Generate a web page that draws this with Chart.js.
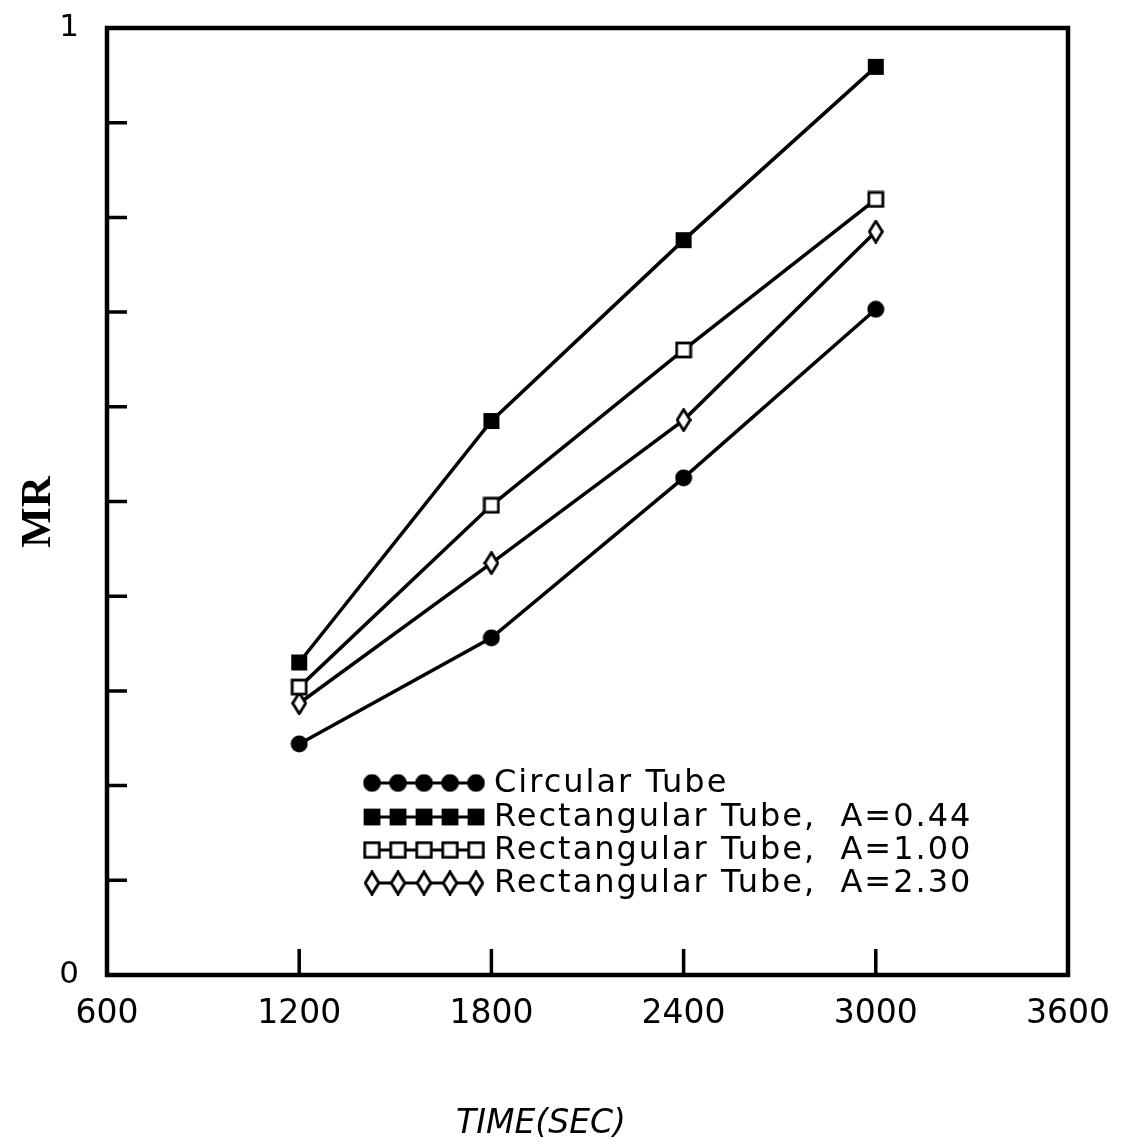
<!DOCTYPE html>
<html>
<head>
<meta charset="utf-8">
<script src="https://cdn.jsdelivr.net/npm/chart.js@4.4.1/dist/chart.umd.min.js"></script>
<style>
  html, body { margin: 0; padding: 0; background: #fff; }
  #wrap { width: 1130px; height: 1145px; position: relative; }
</style>
</head>
<body>
<div id="wrap"><canvas id="chartMR"></canvas></div>
<script>
/* ==========================
   DATA
========================== */
const times = [1200, 1800, 2400, 3000];
const xTicks = [600, 1200, 1800, 2400, 3000, 3600];
const yTickLabels = ["0", "1"];

const seriesLabels = [
  "Circular Tube",
  "Rectangular Tube,  A=0.44",
  "Rectangular Tube,  A=1.00",
  "Rectangular Tube,  A=2.30",
];
const circular = [0.244, 0.356, 0.525, 0.703];
const rect044 = [0.330, 0.585, 0.776, 0.959];
const rect100 = [0.304, 0.496, 0.660, 0.819];
const rect230 = [0.287, 0.435, 0.586, 0.785];

/* ==========================
   MARKERS
========================== */
function makeMarker(kind) {
  const c = document.createElement("canvas");
  const w = kind === "diamond" ? 16 : 18;
  const h = kind === "diamond" ? 24 : 18;
  c.width = w;
  c.height = h;
  const g = c.getContext("2d");
  g.fillStyle = "#000";
  g.strokeStyle = "#000";
  g.lineWidth = 2.8;
  if (kind === "circle") {
    g.beginPath();
    g.arc(9, 9, 8.5, 0, Math.PI * 2);
    g.fill();
  } else if (kind === "square") {
    g.fillRect(1, 1, 16, 16);
  } else if (kind === "openSquare") {
    g.fillStyle = "#fff";
    g.fillRect(2, 2, 14, 14);
    g.strokeRect(2, 2, 14, 14);
  } else {
    g.fillStyle = "#fff";
    g.beginPath();
    g.moveTo(8, 1.5);
    g.lineTo(14.5, 12);
    g.lineTo(8, 22.5);
    g.lineTo(1.5, 12);
    g.closePath();
    g.fill();
    g.stroke();
  }
  return c;
}

const markers = [
  makeMarker("circle"),
  makeMarker("square"),
  makeMarker("openSquare"),
  makeMarker("diamond"),
];
const seriesData = [circular, rect044, rect100, rect230];

/* ==========================
   PLUGINS
========================== */
const framePlugin = {
  id: "frame",
  afterDraw(chart) {
    const { ctx, chartArea: a, scales } = chart;
    ctx.save();
    ctx.strokeStyle = "#000";
    ctx.lineWidth = 4.5;
    ctx.strokeRect(a.left, a.top, a.right - a.left, a.bottom - a.top);

    // inward ticks
    ctx.lineWidth = 3.5;
    ctx.beginPath();
    for (let i = 1; i < 10; i++) {
      const y = scales.y.getPixelForValue(i / 10);
      ctx.moveTo(a.left, y);
      ctx.lineTo(a.left + 20, y);
    }
    times.forEach((t) => {
      const x = scales.x.getPixelForValue(t);
      ctx.moveTo(x, a.bottom);
      ctx.lineTo(x, a.bottom - 26);
    });
    ctx.stroke();

    // axis titles
    ctx.fillStyle = "#000";
    ctx.textAlign = "center";
    ctx.textBaseline = "middle";
    ctx.font = "italic 33px 'DejaVu Sans'";
    ctx.fillText("TIME(SEC)", 541, 1124);

    ctx.translate(37, 512);
    ctx.rotate(-Math.PI / 2);
    ctx.font = "bold 43px 'Liberation Serif'";
    ctx.fillText("MR", 0, 2);
    ctx.restore();
  },
};

const legendPlugin = {
  id: "tubeLegend",
  afterDraw(chart) {
    const { ctx } = chart;
    const rows = [783, 817, 850, 883];
    ctx.save();
    ctx.fillStyle = "#000";
    ctx.strokeStyle = "#000";
    ctx.font = "32px 'DejaVu Sans'";
    ctx.letterSpacing = "2px";
    ctx.textAlign = "left";
    ctx.textBaseline = "middle";
    chart.data.datasets.forEach((ds, i) => {
      const y = rows[i];
      ctx.lineWidth = 3;
      ctx.beginPath();
      ctx.moveTo(372, y);
      ctx.lineTo(476, y);
      ctx.stroke();
      const img = ds.pointStyle;
      const w = img.width * 1.05;
      const h = img.height * 1.05;
      for (let k = 0; k < 5; k++) {
        const x = 372 + k * 26;
        ctx.drawImage(img, x - w / 2, y - h / 2, w, h);
      }
      ctx.fillText(ds.label, 494, y + 1);
    });
    ctx.restore();
  },
};

/* ==========================
   CHART
========================== */
const ctx = document.getElementById("chartMR").getContext("2d");

new Chart(ctx, {
  type: "line",
  data: {
    datasets: seriesLabels.map((label, i) => ({
      label: label,
      data: times.map((t, j) => ({ x: t, y: seriesData[i][j] })),
      borderColor: "#000",
      borderWidth: 3.5,
      pointStyle: markers[i],
      pointRadius: 9,
      tension: 0,
      fill: false,
    })),
  },
  options: {
    responsive: true,
    maintainAspectRatio: false,
    animation: false,
    layout: { padding: { top: 28, right: 62, bottom: 0, left: 0 } },
    plugins: {
      legend: { display: false },
      tooltip: { enabled: false },
    },
    scales: {
      x: {
        type: "linear",
        min: 600,
        max: 3600,
        afterBuildTicks(scale) {
          scale.ticks = xTicks.map((v) => ({ value: v }));
        },
        afterFit(scale) {
          scale.height = 170;
          scale.paddingLeft = 0;
          scale.paddingRight = 0;
        },
        grid: { display: false, drawTicks: false },
        border: { display: false },
        ticks: {
          color: "#000",
          padding: 20,
          maxRotation: 0,
          font: { family: "DejaVu Sans", size: 33 },
          callback: (v) => String(v),
        },
      },
      y: {
        type: "linear",
        min: 0,
        max: 1,
        afterBuildTicks(scale) {
          scale.ticks = [{ value: 0 }, { value: 1 }];
        },
        afterFit(scale) {
          scale.width = 107;
          scale.paddingTop = 0;
          scale.paddingBottom = 0;
        },
        grid: { display: false, drawTicks: false },
        border: { display: false },
        ticks: {
          color: "#000",
          padding: 28,
          font: { family: "DejaVu Sans", size: 31 },
          callback: (v) => (v === 0 ? yTickLabels[0] : yTickLabels[1]),
        },
      },
    },
  },
  plugins: [framePlugin, legendPlugin],
});
</script>
</body>
</html>
